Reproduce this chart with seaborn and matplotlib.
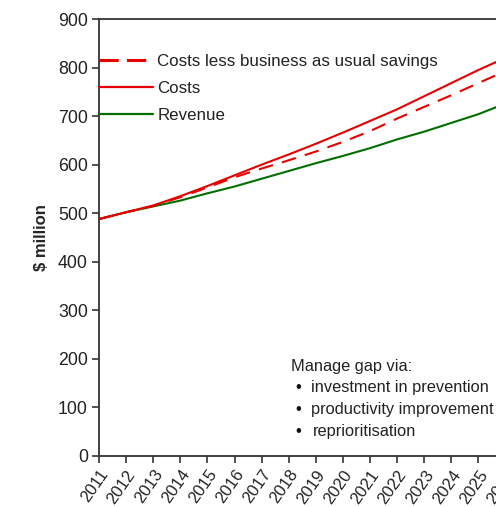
import matplotlib
matplotlib.use("Agg")
import matplotlib.pyplot as plt
import seaborn as sns
import pandas as pd

years = list(range(2011, 2027))
costs = [488, 502, 516, 535, 556, 578, 600, 621, 643, 666, 690, 714, 741, 768, 795, 820]
costs_less_bau = [488, 502, 515, 533, 553, 574, 592, 609, 627, 647, 669, 695, 719, 743, 768, 793]
revenue = [488, 502, 514, 526, 541, 555, 571, 587, 603, 618, 634, 652, 668, 686, 704, 726]
y_ticks = [0, 100, 200, 300, 400, 500, 600, 700, 800, 900]
notes = ["Manage gap via:", "investment in prevention", "productivity improvement", "reprioritisation"]

sns.set_style("white")
plt.rcParams['font.family'] = ['Liberation Sans', 'DejaVu Sans']

df = pd.DataFrame({
    "year": years * 3,
    "value": revenue + costs + costs_less_bau,
    "series": ["Revenue"] * len(years) + ["Costs"] * len(years)
              + ["Costs less business as usual savings"] * len(years),
})

fig = plt.figure(figsize=(4.96, 5.07), dpi=100)
W, H = 496, 507
x0, x1 = 99, 99 + 15 * 27.1
y0, y1 = 456, 19
ax = fig.add_axes([x0 / W, 1 - y0 / H, (x1 - x0) / W, (y0 - y1) / H])

palette = {"Revenue": "#006e00", "Costs": "#e60000",
           "Costs less business as usual savings": "#e60000"}
dashes = {"Revenue": "", "Costs": "", "Costs less business as usual savings": (7, 4.5)}
sns.lineplot(data=df, x="year", y="value", hue="series", style="series",
             palette=palette, dashes=dashes, linewidth=1.5, ax=ax, legend=True)

ax.set_xlim(2011, 2026)
ax.set_ylim(0, 900)
ax.set_yticks(y_ticks)
ax.set_yticklabels([str(v) for v in y_ticks], fontsize=12.8, color="#222222")
ax.set_xticks(years)
ax.set_xticklabels([str(y) for y in years], rotation=55, ha="right", rotation_mode="anchor",
                   fontsize=12, color="#222222")
ax.set_xlabel("")
ax.set_ylabel("$ million", fontsize=12, fontweight="bold")
ax.yaxis.set_label_coords(-0.122, 0.5)

for s in ["left", "bottom", "top"]:
    ax.spines[s].set_visible(True)
    ax.spines[s].set_color("#333333")
    ax.spines[s].set_linewidth(1.3)
ax.spines["right"].set_visible(False)
ax.tick_params(axis="both", direction="out", length=5, width=1.2, color="#333333",
               left=True, bottom=True, pad=3)

handles, labels = ax.get_legend_handles_labels()
order = [labels.index("Costs less business as usual savings"), labels.index("Costs"),
         labels.index("Revenue")]
leg = ax.legend([handles[i] for i in order], [labels[i] for i in order],
                loc="upper left", bbox_to_anchor=(0.0, 0.92), frameon=False,
                fontsize=12.2, handlelength=3.2, handletextpad=0.24, labelspacing=0.72,
                borderaxespad=0, borderpad=0)
for t in leg.get_texts():
    t.set_color("#222222")
leg_lines = leg.get_lines()
for h in leg_lines:
    h.set_linewidth(1.6)
leg_lines[0].set_linewidth(2.2)
leg_lines[0].set_dashes((6.3, 2.7))

ax.text(0.472, 0.205, notes[0], transform=ax.transAxes, fontsize=11.8, color="#222222",
        va="center")
for i, n in enumerate(notes[1:]):
    yy = 0.157 - i * 0.05
    ax.text(0.484, yy, "\u2022", transform=ax.transAxes, fontsize=11.8,
            color="#111111", va="center")
    ax.text(0.521 + (0.005 if i == 2 else 0), yy, n, transform=ax.transAxes, fontsize=11.8,
            color="#222222", va="center")

fig.savefig("out.png", dpi=100)
